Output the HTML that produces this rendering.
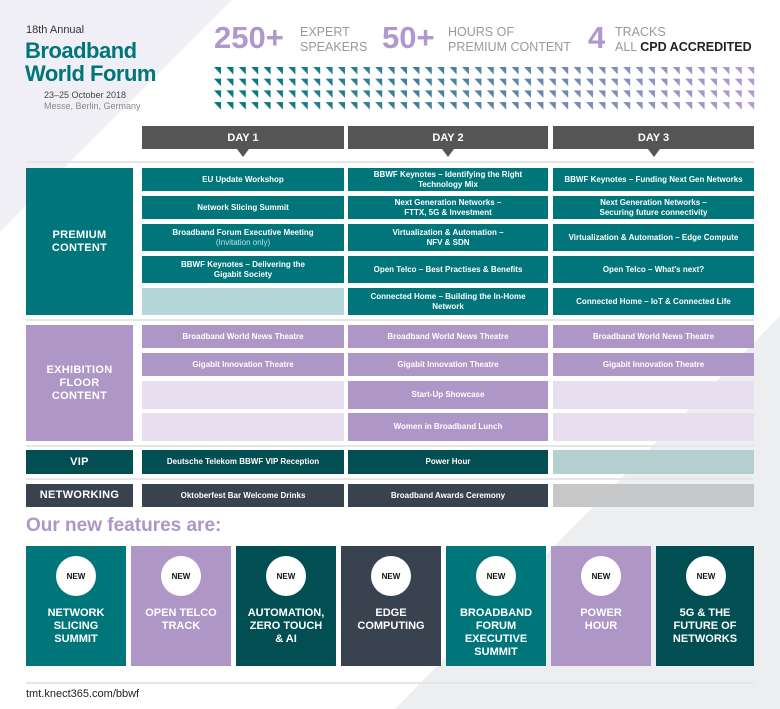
<!DOCTYPE html>
<html><head><meta charset="utf-8"><style>
*{margin:0;padding:0;box-sizing:border-box}
body{width:780px;height:709px;position:relative;background:#fff;font-family:"Liberation Sans",sans-serif;overflow:hidden}
.a{position:absolute}
.c{position:absolute;display:flex;align-items:center;justify-content:center;text-align:center;color:#fff;font-weight:bold;font-size:8px;line-height:10px;padding:0 4px}
.t{background:#00767b}.p{background:#ae96c6}.lt{background:#b4d8da}.lp{background:#e7def0}
.v{background:#014f52}.n{background:#39434f}
.lab{font-size:11px;line-height:13px;letter-spacing:.3px}
.sep{position:absolute;left:26px;width:728px;height:2px;background:#e6e6ea}
.dh{position:absolute;top:126px;height:23px;background:#555;color:#fff;font-weight:bold;font-size:11px;display:flex;align-items:center;justify-content:center}
.dh:after{content:"";position:absolute;bottom:-8px;left:50%;margin-left:-6px;border-left:6px solid transparent;border-right:6px solid transparent;border-top:8px solid #555}
.f{position:absolute;top:546px;width:100px;height:120px;color:#fff;font-weight:bold;font-size:11px;line-height:13px;text-align:center}
.f .o{position:absolute;left:30px;top:10px;width:40px;height:40px;border-radius:50%;background:#fff;color:#111;font-size:8px;display:flex;align-items:center;justify-content:center}
.f .x{position:absolute;top:61px;left:0;width:100%}
.sm{font-weight:normal;color:#bfe0e0}
</style></head><body>
<svg class="a" style="left:0;top:0" width="780" height="709">
<polygon points="0,0 232,0 0,232" fill="#f1eff6"/>
<polygon points="780,316 780,709 395,709" fill="#eceef0"/>
</svg>
<svg class="a" style="left:214px;top:66px" width="545" height="46">
<defs>
<mask id="m2"><rect width="545" height="46" fill="#000"/><rect width="545" height="46" fill="url(#p3)"/></mask>
<pattern id="p3" width="12.4" height="11.7" patternUnits="userSpaceOnUse"><polygon points="0,1 7,1 7,8.5" fill="#fff"/></pattern>
<linearGradient id="g2" x1="0" x2="1"><stop offset="0" stop-color="#00767b"/><stop offset="0.55" stop-color="#5c85a8"/><stop offset="1" stop-color="#b79bd0"/></linearGradient></defs>
<rect width="545" height="46" fill="url(#g2)" mask="url(#m2)"/>
</svg>

<div class="a" style="left:26px;top:24px;font-size:11px;color:#333">18th Annual</div>
<div class="a" style="left:25px;top:39px;font-size:22px;line-height:23px;font-weight:bold;color:#00767b;letter-spacing:-.5px">Broadband<br>World Forum</div>
<div class="a" style="left:44px;top:90px;font-size:9px;line-height:11px;color:#444">23–25 October 2018<br><span style="color:#888">Messe, Berlin, Germany</span></div>

<div class="a" style="left:214px;top:20px;font-size:31px;font-weight:bold;color:#b098cc">250+</div>
<div class="a" style="left:300px;top:25px;font-size:12.5px;line-height:15px;color:#999">EXPERT<br>SPEAKERS</div>
<div class="a" style="left:382px;top:20px;font-size:31px;font-weight:bold;color:#b098cc">50+</div>
<div class="a" style="left:448px;top:25px;font-size:12.5px;line-height:15px;color:#999">HOURS OF<br>PREMIUM CONTENT</div>
<div class="a" style="left:588px;top:20px;font-size:31px;font-weight:bold;color:#b098cc">4</div>
<div class="a" style="left:615px;top:25px;font-size:12.5px;line-height:15px;color:#999">TRACKS<br>ALL <b style="color:#222">CPD ACCREDITED</b></div>

<div class="dh" style="left:142px;width:202px">DAY 1</div>
<div class="dh" style="left:348px;width:200px">DAY 2</div>
<div class="dh" style="left:553px;width:201px">DAY 3</div>

<div class="sep" style="top:161px"></div>
<div class="sep" style="top:319px"></div>
<div class="sep" style="top:445px"></div>
<div class="sep" style="top:478px"></div>

<div class="c t lab" style="left:26px;top:168px;width:107px;height:147px">PREMIUM<br>CONTENT</div>
<div class="c t" style="left:142px;top:168px;width:202px;height:23px">EU Update Workshop</div>
<div class="c t" style="left:142px;top:196px;width:202px;height:23px">Network Slicing Summit</div>
<div class="c t" style="left:142px;top:224px;width:202px;height:27px"><div>Broadband Forum Executive Meeting<br><span class="sm">(Invitation only)</span></div></div>
<div class="c t" style="left:142px;top:256px;width:202px;height:27px;padding:0 28px">BBWF Keynotes – Delivering the Gigabit Society</div>
<div class="c lt" style="left:142px;top:288px;width:202px;height:27px"></div>
<div class="c t" style="left:348px;top:168px;width:200px;height:23px">BBWF Keynotes – Identifying the Right Technology Mix</div>
<div class="c t" style="left:348px;top:196px;width:200px;height:23px">Next Generation Networks –<br>FTTX, 5G &amp; Investment</div>
<div class="c t" style="left:348px;top:224px;width:200px;height:27px">Virtualization &amp; Automation –<br>NFV &amp; SDN</div>
<div class="c t" style="left:348px;top:256px;width:200px;height:27px">Open Telco – Best Practises &amp; Benefits</div>
<div class="c t" style="left:348px;top:288px;width:200px;height:27px;padding:0 20px">Connected Home – Building the In-Home Network</div>
<div class="c t" style="left:553px;top:168px;width:201px;height:23px">BBWF Keynotes – Funding Next Gen Networks</div>
<div class="c t" style="left:553px;top:196px;width:201px;height:23px">Next Generation Networks –<br>Securing future connectivity</div>
<div class="c t" style="left:553px;top:224px;width:201px;height:27px">Virtualization &amp; Automation – Edge Compute</div>
<div class="c t" style="left:553px;top:256px;width:201px;height:27px">Open Telco – What's next?</div>
<div class="c t" style="left:553px;top:288px;width:201px;height:27px">Connected Home – IoT &amp; Connected Life</div>

<div class="c p lab" style="left:26px;top:325px;width:107px;height:116px">EXHIBITION<br>FLOOR<br>CONTENT</div>
<div class="c p" style="left:142px;top:325px;width:202px;height:23px">Broadband World News Theatre</div>
<div class="c p" style="left:142px;top:353px;width:202px;height:23px">Gigabit Innovation Theatre</div>
<div class="c lp" style="left:142px;top:381px;width:202px;height:28px"></div>
<div class="c lp" style="left:142px;top:413px;width:202px;height:28px"></div>
<div class="c p" style="left:348px;top:325px;width:200px;height:23px">Broadband World News Theatre</div>
<div class="c p" style="left:348px;top:353px;width:200px;height:23px">Gigabit Innovation Theatre</div>
<div class="c p" style="left:348px;top:381px;width:200px;height:28px">Start-Up Showcase</div>
<div class="c p" style="left:348px;top:413px;width:200px;height:28px">Women in Broadband Lunch</div>
<div class="c p" style="left:553px;top:325px;width:201px;height:23px">Broadband World News Theatre</div>
<div class="c p" style="left:553px;top:353px;width:201px;height:23px">Gigabit Innovation Theatre</div>
<div class="c lp" style="left:553px;top:381px;width:201px;height:28px"></div>
<div class="c lp" style="left:553px;top:413px;width:201px;height:28px"></div>

<div class="c v lab" style="left:26px;top:450px;width:107px;height:24px">VIP</div>
<div class="c v" style="left:142px;top:450px;width:202px;height:24px">Deutsche Telekom BBWF VIP Reception</div>
<div class="c v" style="left:348px;top:450px;width:200px;height:24px">Power Hour</div>
<div class="c" style="left:553px;top:450px;width:201px;height:24px;background:#b3cfcf"></div>
<div class="c n lab" style="left:26px;top:484px;width:107px;height:23px">NETWORKING</div>
<div class="c n" style="left:142px;top:484px;width:202px;height:23px">Oktoberfest Bar Welcome Drinks</div>
<div class="c n" style="left:348px;top:484px;width:200px;height:23px">Broadband Awards Ceremony</div>
<div class="c" style="left:553px;top:484px;width:201px;height:23px;background:#c5c7c9"></div>

<div class="a" style="left:26px;top:515px;font-size:19px;font-weight:bold;color:#ae96c6">Our new features are:</div>
<div class="f t" style="left:26px"><div class="o">NEW</div><div class="x">NETWORK<br>SLICING<br>SUMMIT</div></div>
<div class="f p" style="left:131px"><div class="o">NEW</div><div class="x">OPEN TELCO<br>TRACK</div></div>
<div class="f v" style="left:236px"><div class="o">NEW</div><div class="x">AUTOMATION,<br>ZERO TOUCH<br>&amp; AI</div></div>
<div class="f n" style="left:341px"><div class="o">NEW</div><div class="x">EDGE<br>COMPUTING</div></div>
<div class="f t" style="left:446px"><div class="o">NEW</div><div class="x">BROADBAND<br>FORUM<br>EXECUTIVE<br>SUMMIT</div></div>
<div class="f p" style="left:551px"><div class="o">NEW</div><div class="x">POWER<br>HOUR</div></div>
<div class="f v" style="left:656px;width:98px"><div class="o">NEW</div><div class="x">5G &amp; THE<br>FUTURE OF<br>NETWORKS</div></div>

<div class="sep" style="top:682px"></div>
<div class="a" style="left:26px;top:688px;font-size:11px;color:#222">tmt.knect365.com/bbwf</div>
</body></html>
